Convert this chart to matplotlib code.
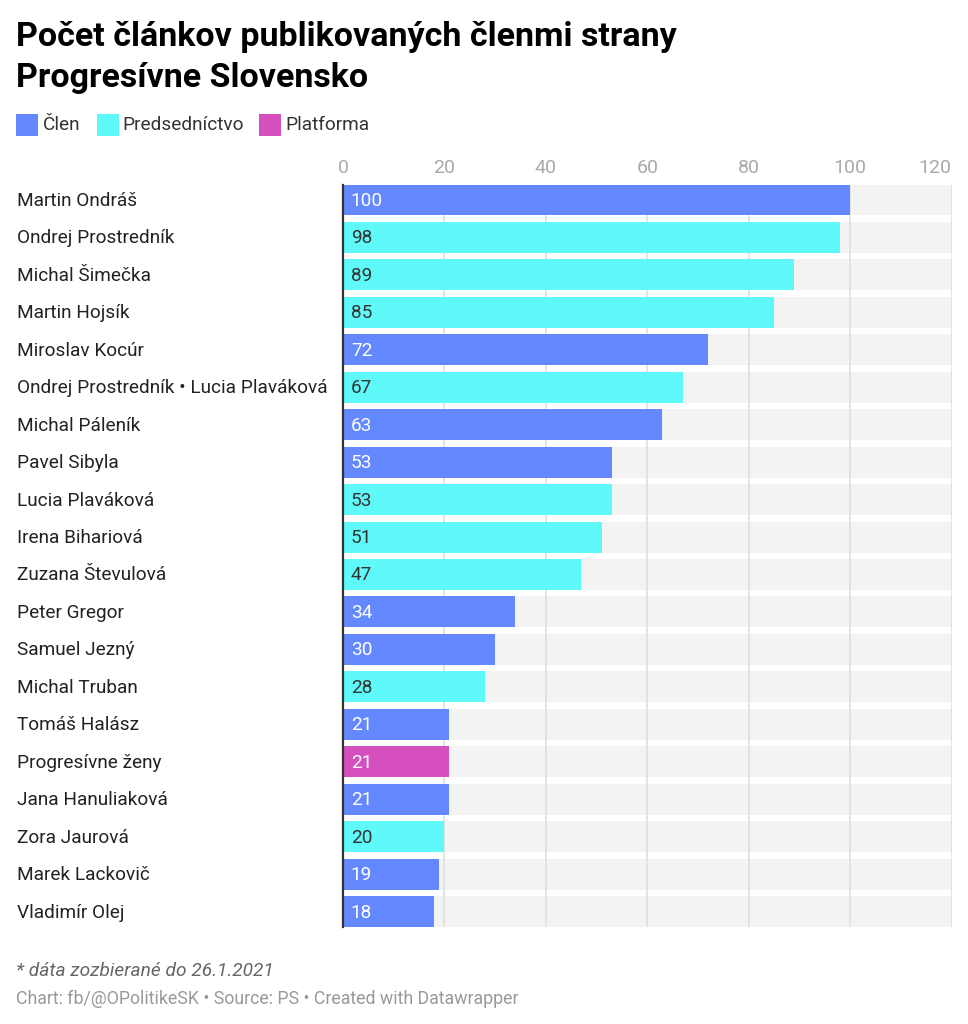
import matplotlib
matplotlib.use("Agg")
import matplotlib.pyplot as plt
from matplotlib.patches import Rectangle
from matplotlib.transforms import blended_transform_factory, offset_copy

plt.rcParams['font.family'] = ['Roboto', 'DejaVu Sans']

names = ["Martin Ondráš", "Ondrej Prostredník", "Michal Šimečka", "Martin Hojsík",
         "Miroslav Kocúr", "Ondrej Prostredník • Lucia Plaváková", "Michal Páleník",
         "Pavel Sibyla", "Lucia Plaváková", "Irena Bihariová", "Zuzana Števulová",
         "Peter Gregor", "Samuel Jezný", "Michal Truban", "Tomáš Halász",
         "Progresívne ženy", "Jana Hanuliaková", "Zora Jaurová", "Marek Lackovič",
         "Vladimír Olej"]
values = [100, 98, 89, 85, 72, 67, 63, 53, 53, 51, 47, 34, 30, 28, 21, 21, 21, 20, 19, 18]
groups = ["Člen", "Predsedníctvo", "Predsedníctvo", "Predsedníctvo", "Člen", "Predsedníctvo",
          "Člen", "Člen", "Predsedníctvo", "Predsedníctvo", "Predsedníctvo", "Člen", "Člen",
          "Predsedníctvo", "Člen", "Platforma", "Člen", "Predsedníctvo", "Člen", "Člen"]
palette = {"Člen": "#6488ff", "Predsedníctvo": "#5ff9f9", "Platforma": "#d64fbf"}
label_colors = {"Člen": "white", "Predsedníctvo": "#333333", "Platforma": "white"}
ticks = [0, 20, 40, 60, 80, 100, 120]

W, H = 968, 1024
fig = plt.figure(figsize=(W/100, H/100), dpi=100, facecolor="white")
L, R, T, B = 343, 951.5, 184.5, 927
ax = fig.add_axes([L/W, 1-B/H, (R-L)/W, (B-T)/H])
bar_h = 31/37.45
ax.set_xlim(0, 120)
ax.set_ylim(len(names)-1+bar_h/2, -bar_h/2)
ypos = list(range(len(names)))

ax.barh(ypos, [120]*len(names), height=bar_h, color="#f3f3f3", zorder=1)
for t in ticks[1:]:
    ax.axvline(t, color="#dddddd", lw=1.1, zorder=2)
ax.barh(ypos, values, height=bar_h, color=[palette[g] for g in groups], zorder=3)
ax.axvline(0, color="#333333", lw=1.6, zorder=4, clip_on=False)

for s in ax.spines.values():
    s.set_visible(False)
ax.set_xticks(ticks)
ax.xaxis.tick_top()
ax.tick_params(axis='x', length=0, pad=5.3, labelsize=14, labelcolor="#aaaaaa")
ax.get_xticklabels()[-1].set_ha("right")
ax.set_yticks([])

name_tf = offset_copy(blended_transform_factory(fig.transFigure, ax.transData),
                      fig=fig, y=-1.0, units="dots")
val_tf = offset_copy(ax.transData, fig=fig, y=-1.0, units="dots")
for y, n, v, g in zip(ypos, names, values, groups):
    fig.text(17/W, y, n, fontsize=13.7, color="#222222", va="center", ha="left", transform=name_tf)
    ax.text(1.55, y, str(v), fontsize=13.7, color=label_colors[g], va="center", ha="left",
            zorder=5, transform=val_tf)

fig.text(16/W, 1-37/H, "Počet článkov publikovaných členmi strany", fontsize=24.5, fontweight="bold",
         color="#000000", va="center", ha="left")
fig.text(16/W, 1-78.5/H, "Progresívne Slovensko", fontsize=24.5, fontweight="bold",
         color="#000000", va="center", ha="left")

for x0, lab, tx in [(16, "Člen", 42.5), (97, "Predsedníctvo", 122.5), (259, "Platforma", 285)]:
    fig.add_artist(Rectangle((x0/W, 1-136/H), 22/W, 22/H, transform=fig.transFigure,
                             facecolor=palette[lab], edgecolor="none"))
    fig.text(tx/W, 1-125/H, lab, fontsize=13.65, color="#333333", va="center", ha="left")

fig.text(16/W, 1-970.5/H, "* dáta zozbierané do 26.1.2021", fontsize=13.8, fontstyle="italic",
         color="#666666", va="center", ha="left")
fig.text(16/W, 1-999/H, "Chart: fb/@OPolitikeSK • Source: PS • Created with Datawrapper", fontsize=12.77,
         color="#999999", va="center", ha="left")

fig.savefig("out.png", dpi=100)
